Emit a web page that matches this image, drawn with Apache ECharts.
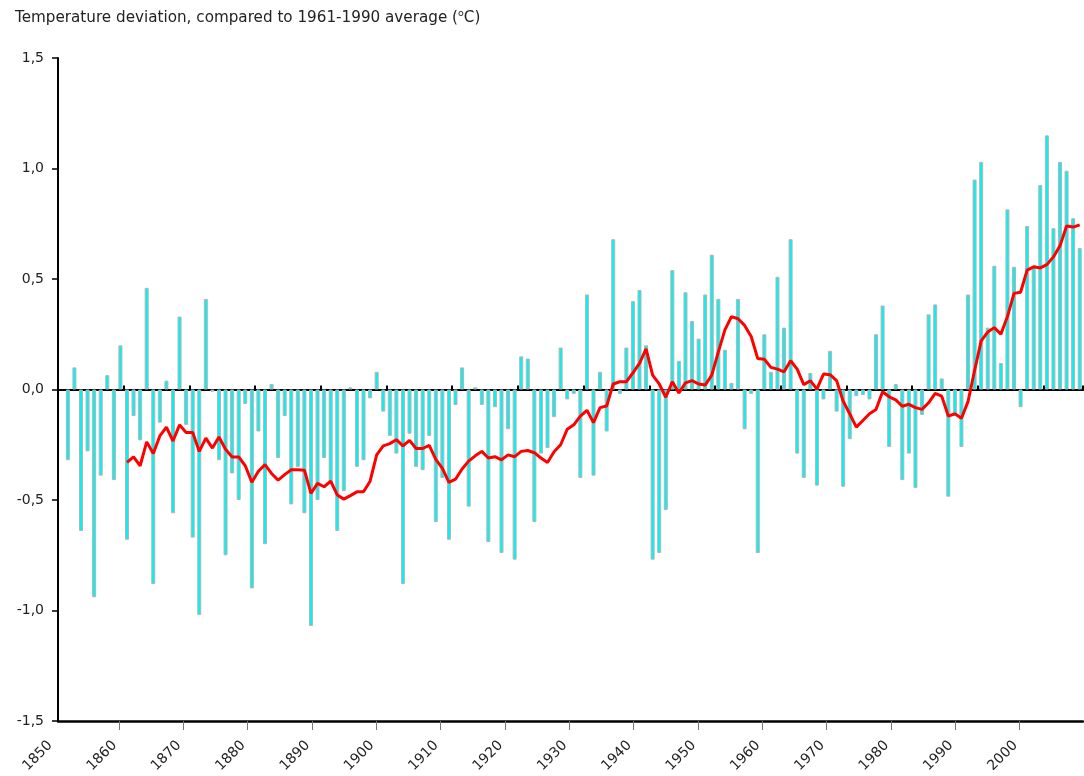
<!DOCTYPE html>
<html>
<head>
<meta charset="utf-8">
<title>Temperature deviation</title>
<script src="https://cdn.jsdelivr.net/npm/echarts@6/dist/echarts.min.js"></script>
<style>
    html, body { margin: 0; padding: 0; background: #fff; }
    #chart { width: 1084px; height: 776px; }
</style>
</head>
<body>
<div id="chart"></div>
<script>
// yearly deviation (°C), 1850 .. 2005
var firstYear = 1850;
var deviation = [
    null, -0.32, 0.10, -0.64, -0.28, -0.94, -0.39, 0.065, -0.41, 0.20,
    -0.68, -0.12, -0.23, 0.46, -0.88, -0.15, 0.04, -0.56, 0.33, -0.16,
    -0.67, -1.02, 0.41, -0.01, -0.32, -0.75, -0.38, -0.50, -0.065, -0.90,
    -0.19, -0.70, 0.025, -0.31, -0.12, -0.52, -0.35, -0.56, -1.07, -0.50,
    -0.31, -0.43, -0.64, -0.46, 0.01, -0.35, -0.32, -0.04, 0.08, -0.10,
    -0.21, -0.29, -0.88, -0.20, -0.35, -0.365, -0.21, -0.60, -0.40, -0.68,
    -0.07, 0.10, -0.53, 0.01, -0.07, -0.69, -0.08, -0.74, -0.18, -0.77,
    0.15, 0.14, -0.60, -0.29, -0.265, -0.125, 0.19, -0.045, -0.02, -0.40,
    0.43, -0.39, 0.08, -0.19, 0.68, -0.02, 0.19, 0.40, 0.45, 0.20,
    -0.77, -0.74, -0.545, 0.54, 0.13, 0.44, 0.31, 0.23, 0.43, 0.61,
    0.41, 0.18, 0.03, 0.41, -0.18, -0.02, -0.74, 0.25, 0.08, 0.51,
    0.28, 0.68, -0.29, -0.40, 0.075, -0.435, -0.045, 0.175, -0.10, -0.44,
    -0.225, -0.03, -0.025, -0.045, 0.25, 0.38, -0.26, 0.025, -0.41, -0.29,
    -0.445, -0.115, 0.34, 0.385, 0.05, -0.485, -0.12, -0.26, 0.43, 0.95,
    1.03, 0.28, 0.56, 0.12, 0.815, 0.555, -0.08, 0.74, 0.56, 0.925,
    1.15, 0.73, 1.03, 0.99, 0.775, 0.64
];
// 10-year mean (red curve)
var smoothed = [
    null, null, null, null, null, null, null, null, null, null,
    -0.33, -0.305, -0.345, -0.237, -0.29, -0.21, -0.17, -0.233, -0.16, -0.195,
    -0.195, -0.28, -0.22, -0.265, -0.215, -0.27, -0.305, -0.305, -0.345, -0.42,
    -0.37, -0.34, -0.38, -0.41, -0.385, -0.363, -0.363, -0.365, -0.47, -0.425,
    -0.44, -0.415, -0.477, -0.496, -0.48, -0.463, -0.463, -0.415, -0.296, -0.255,
    -0.245, -0.227, -0.255, -0.23, -0.267, -0.267, -0.253, -0.316, -0.357, -0.42,
    -0.406, -0.36, -0.324, -0.30, -0.28, -0.31, -0.304, -0.318, -0.296, -0.304,
    -0.28, -0.276, -0.286, -0.31, -0.33, -0.282, -0.25, -0.18, -0.16, -0.12,
    -0.094, -0.15, -0.082, -0.075, 0.025, 0.035, 0.035, 0.075, 0.118, 0.184,
    0.065, 0.025, -0.035, 0.035, -0.016, 0.03, 0.04, 0.025, 0.02, 0.065,
    0.17, 0.27, 0.33, 0.32, 0.29, 0.24, 0.14, 0.137, 0.10, 0.092,
    0.08, 0.13, 0.092, 0.022, 0.04, 0.002, 0.07, 0.067, 0.04, -0.053,
    -0.11, -0.17, -0.14, -0.11, -0.09, -0.01, -0.033, -0.047, -0.076, -0.067,
    -0.082, -0.09, -0.06, -0.018, -0.03, -0.12, -0.11, -0.13, -0.055, 0.086,
    0.22, 0.26, 0.28, 0.25, 0.33, 0.435, 0.44, 0.54, 0.555, 0.55,
    0.565, 0.60, 0.65, 0.74, 0.735, 0.745
];
var yTicks = [-1.5, -1.0, -0.5, 0, 0.5, 1.0, 1.5];
var lastLabelYear = 2000;
var labelAxisEnd = 2010;

var years = [];
for (var i = 0; i < deviation.length; i++) {
    years.push(String(firstYear + i));
}
var labelYears = [];
for (var y = firstYear; y <= labelAxisEnd; y++) {
    labelYears.push(String(y));
}

var font = 'DejaVu Sans, Verdana, sans-serif';
var decade = function (index, value) {
    var v = Number(value);
    return v % 10 === 0 && v > firstYear && v <= lastLabelYear;
};

var myChart = echarts.init(document.getElementById('chart'));
var option = {
    animation: false,
    backgroundColor: '#fff',
    title: {
        text: 'Temperature deviation, compared to 1961-1990 average ({sup|o}C)',
        left: 10,
        top: 4,
        textStyle: {
            fontFamily: font,
            fontSize: 15.2,
            fontWeight: 'normal',
            color: '#222',
            lineHeight: 18,
            rich: {
                sup: {
                    fontFamily: font,
                    fontSize: 9.5,
                    color: '#222',
                    lineHeight: 10,
                    verticalAlign: 'top'
                }
            }
        }
    },
    grid: [
        {left: 58, right: 1, top: 58, bottom: 55},
        {left: 54.5, width: 1036.6, top: 58, bottom: 55}
    ],
    xAxis: [
        {
            // zero line, upper half of the cross ticks
            type: 'category',
            gridIndex: 0,
            data: years,
            axisLine: {onZero: true, onZeroAxisIndex: 0, lineStyle: {color: '#000', width: 2}},
            axisTick: {show: true, inside: true, length: 4, interval: decade, lineStyle: {color: '#000', width: 2}},
            axisLabel: {show: false},
            splitLine: {show: false}
        },
        {
            // zero line, lower half of the cross ticks
            type: 'category',
            gridIndex: 0,
            data: years,
            axisLine: {onZero: true, onZeroAxisIndex: 0, lineStyle: {color: '#000', width: 2}},
            axisTick: {show: true, inside: false, length: 4, interval: decade, lineStyle: {color: '#000', width: 2}},
            axisLabel: {show: false},
            splitLine: {show: false}
        },
        {
            // bottom frame line
            type: 'category',
            gridIndex: 0,
            position: 'bottom',
            data: years,
            axisLine: {onZero: false, lineStyle: {color: '#000', width: 2.5}},
            axisTick: {show: false},
            axisLabel: {show: false},
            splitLine: {show: false}
        },
        {
            // year labels
            type: 'category',
            gridIndex: 1,
            position: 'bottom',
            boundaryGap: false,
            data: labelYears,
            axisLine: {show: false, onZero: false},
            axisTick: {show: true, length: 9, interval: decade, lineStyle: {color: '#777', width: 1}},
            axisLabel: {
                show: true,
                rotate: 45,
                margin: 18,
                padding: [0, 6, 0, 0],
                interval: function (index, value) {
                    var v = Number(value);
                    return v % 10 === 0 && v <= lastLabelYear;
                },
                fontFamily: font,
                fontSize: 14,
                color: '#222'
            },
            splitLine: {show: false}
        }
    ],
    yAxis: [
        {
            type: 'value',
            gridIndex: 0,
            min: yTicks[0],
            max: yTicks[yTicks.length - 1],
            interval: 0.5,
            axisLine: {show: true, lineStyle: {color: '#000', width: 2}},
            axisTick: {show: true, length: 6, lineStyle: {color: '#000', width: 1.5}},
            axisLabel: {
                margin: 14,
                fontFamily: font,
                fontSize: 14,
                color: '#222',
                formatter: function (v) {
                    return v.toFixed(1).replace('.', ',');
                }
            },
            splitLine: {show: false}
        },
        {
            type: 'value',
            gridIndex: 1,
            show: false,
            min: yTicks[0],
            max: yTicks[yTicks.length - 1]
        }
    ],
    series: [
        {
            type: 'bar',
            xAxisIndex: 0,
            yAxisIndex: 0,
            data: deviation,
            barWidth: 4,
            z: 2,
            itemStyle: {
                color: '#00f4f4',
                borderColor: '#b4b4b4',
                borderWidth: 1
            }
        },
        {
            type: 'line',
            xAxisIndex: 0,
            yAxisIndex: 0,
            data: smoothed,
            symbol: 'none',
            z: 4,
            lineStyle: {color: '#ff0000', width: 3}
        }
    ]
};
myChart.setOption(option);
</script>
</body>
</html>
